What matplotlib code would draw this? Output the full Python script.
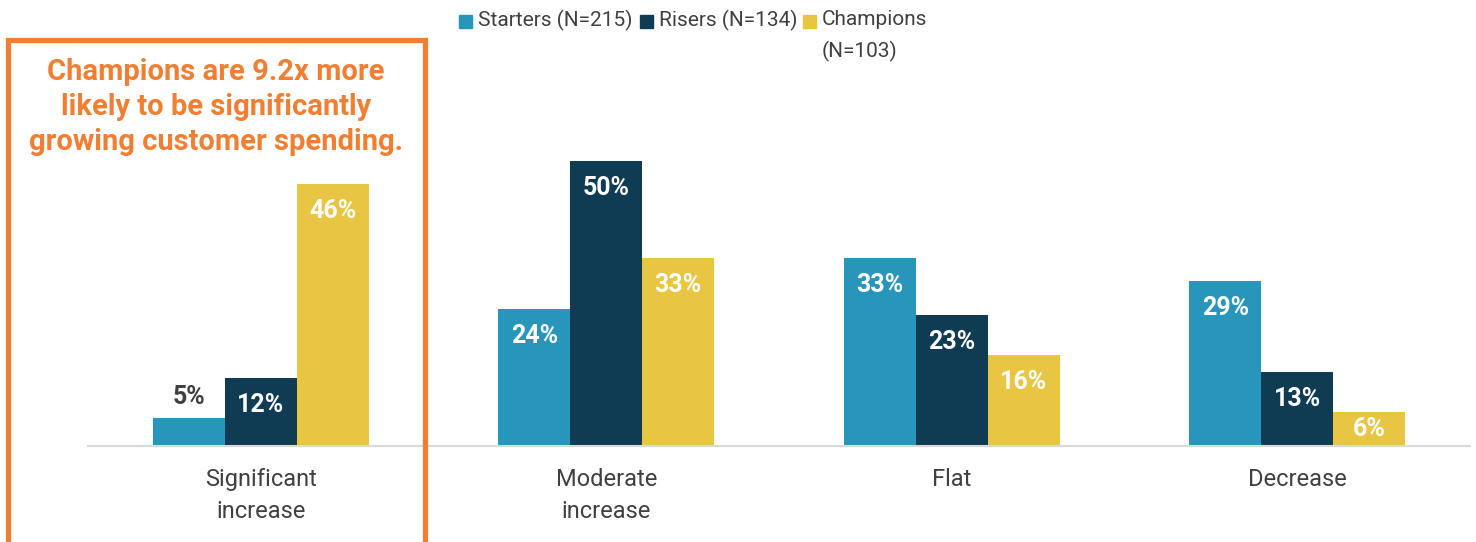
import matplotlib.pyplot as plt
from matplotlib.patches import Rectangle

# data
categories = ["Significant\nincrease", "Moderate\nincrease", "Flat", "Decrease"]
series_names = ["Starters (N=215)", "Risers (N=134)", "Champions\n(N=103)"]
starters = [5, 24, 33, 29]
risers = [12, 50, 23, 13]
champions = [46, 33, 16, 6]
colors = ["#2796BA", "#0F3B53", "#E8C542"]

plt.rcParams["font.family"] = ["Roboto", "DejaVu Sans"]
gray = "#404040"
orange = "#F07F33"

fig = plt.figure(figsize=(14.76, 5.42), dpi=100)
ax = fig.add_axes([88 / 1476, 96 / 542, 1382 / 1476, 342 / 542])

w = 0.208
x = list(range(len(categories)))
for i, (vals, c) in enumerate(zip([starters, risers, champions], colors)):
    pos = [xi + (i - 1) * w for xi in x]
    bars = ax.bar(pos, vals, width=w, color=c, edgecolor="none")
    for b, v in zip(bars, vals):
        cx = b.get_x() + b.get_width() / 2
        if v < 6:
            ax.annotate(f"{v}%", (cx, v), xytext=(0, 20), textcoords="offset pixels",
                        ha="center", va="center", fontsize=18, fontweight="bold", color=gray)
        else:
            off = min(27, v * 5.7 / 2)
            ax.annotate(f"{v}%", (cx, v), xytext=(0, -off), textcoords="offset pixels",
                        ha="center", va="center", fontsize=18, fontweight="bold", color="white")

ax.set_xlim(-0.5, 3.5)
ax.set_ylim(0, 60)
ax.set_yticks([])
ax.set_xticks(x)
ax.set_xticklabels(categories, fontsize=17, color=gray, linespacing=1.5)
ax.tick_params(axis="x", length=0, pad=16)
for s in ["top", "right", "left"]:
    ax.spines[s].set_visible(False)
ax.spines["bottom"].set_color("#D9D9D9")
ax.spines["bottom"].set_linewidth(1.5)

# legend drawn by hand
leg_x = [459, 640, 803]
for lx, name, c in zip(leg_x, series_names, colors):
    fig.patches.append(Rectangle((lx / 1476, 1 - 28 / 542), 13 / 1476, 13 / 542,
                                 transform=fig.transFigure, color=c))
    fig.text((lx + 19) / 1476, 1 - 10 / 542, name, fontsize=15, color=gray,
             ha="left", va="top", linespacing=1.7)

# callout box
fig.patches.append(Rectangle((8 / 1476, -10 / 542), 417 / 1476, (542 - 40 + 10) / 542,
                             transform=fig.transFigure, fill=False, edgecolor=orange,
                             linewidth=3.8))
fig.text(216 / 1476, 1 - 107 / 542,
         "Champions are 9.2x more\nlikely to be significantly\ngrowing customer spending.",
         ha="center", va="center", fontsize=21, fontweight="bold", color=orange,
         linespacing=1.3)

fig.savefig("out.png", dpi=100)
